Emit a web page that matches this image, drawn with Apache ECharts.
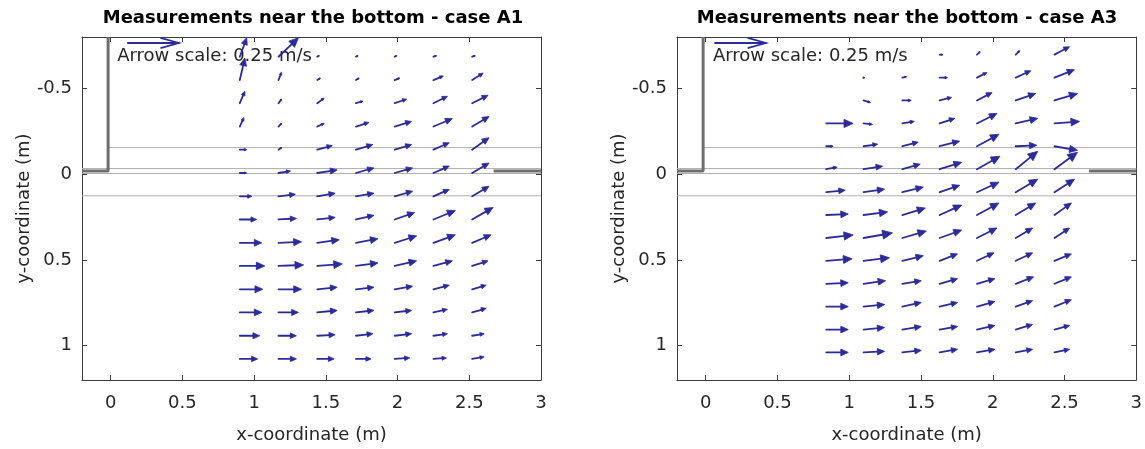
<!DOCTYPE html>
<html><head><meta charset="utf-8">
<script src="https://cdn.jsdelivr.net/npm/echarts@6/dist/echarts.min.js"></script>
<style>html,body{margin:0;padding:0;background:#fff}#c{width:1145px;height:449px}</style>
</head><body><div id="c"></div>
<script>
// ---------------- data ----------------
const titles = ['Measurements near the bottom - case A1', 'Measurements near the bottom - case A3'];
const xName = 'x-coordinate (m)';
const yName = 'y-coordinate (m)';
const xTicks = [0, 0.5, 1, 1.5, 2, 2.5, 3];
const yTicks = [-0.5, 0, 0.5, 1];
const refLabel = 'Arrow scale: 0.25 m/s';
const refSpeed = 250;              // mm/s, reference arrow

// case A1 : measurement grid (m) and velocities (mm/s), rows listed from top (y=-0.69) to bottom
const xA1 = [0.90, 1.17, 1.44, 1.71, 1.98, 2.25, 2.52];
const yA1 = [-0.685, -0.549, -0.414, -0.278, -0.143, -0.007, 0.129, 0.264, 0.400, 0.535, 0.671, 0.806, 0.942, 1.077];
const uA1 = [
  [34, 98, 10, 10, 10, 15, 15],
  [25, 15, 15, 15, 25, 49, 54],
  [25, 15, 34, 34, 59, 69, 78],
  [20, 15, 34, 64, 83, 93, 83],
  [34, 15, 74, 83, 83, 78, 83],
  [34, 59, 98, 88, 88, 78, 83],
  [59, 83, 88, 88, 88, 78, 83],
  [83, 88, 88, 88, 98, 108, 103],
  [108, 113, 108, 108, 108, 108, 93],
  [123, 123, 123, 108, 108, 93, 78],
  [113, 113, 98, 88, 88, 78, 69],
  [108, 98, 98, 88, 83, 69, 69],
  [98, 88, 88, 83, 83, 69, 59],
  [88, 88, 83, 74, 74, 64, 59]
];
const vA1 = [
  [-93, -93, -5, -5, -5, -5, -5],
  [-108, -39, -10, -10, -10, -20, -34],
  [-59, -20, -25, -10, -20, -34, -39],
  [-44, -15, -15, -20, -25, -39, -49],
  [0, -10, -20, -25, -25, -34, -59],
  [0, -10, -15, -25, -25, -34, -49],
  [0, -10, -15, -15, -25, -34, -49],
  [0, -5, -10, -20, -34, -44, -59],
  [0, -5, -15, -20, -34, -39, -39],
  [0, -5, -10, -15, -25, -25, -25],
  [0, 0, -10, -10, -15, -20, -20],
  [0, 0, -10, -10, -10, -15, -20],
  [0, 0, -5, -10, -10, -10, -10],
  [0, 0, 0, 0, -5, -5, -10]
];

// case A3
const xA3 = [0.84, 1.10, 1.37, 1.63, 1.89, 2.16, 2.43];
const yA3 = [-0.697, -0.563, -0.430, -0.296, -0.163, -0.029, 0.105, 0.238, 0.372, 0.505, 0.639, 0.772, 0.906, 1.039];
const uA3 = [
  [null, null, null, 15, 15, 20, 74],
  [null, 5, 20, 39, 49, 74, 98],
  [null, 34, 44, 59, 74, 98, 113],
  [132, 44, 59, 74, 98, 108, 123],
  [34, 69, 78, 98, 108, 103, 113],
  [54, 93, 88, 108, 113, 108, 113],
  [93, 103, 103, 98, 108, 108, 98],
  [108, 118, 113, 108, 108, 98, 83],
  [132, 142, 118, 108, 98, 83, 74],
  [127, 127, 103, 88, 83, 83, 83],
  [108, 108, 93, 88, 88, 88, 83],
  [108, 103, 93, 88, 88, 83, 83],
  [108, 103, 93, 88, 88, 83, 74],
  [108, 103, 93, 88, 88, 83, 74]
];
const vA3 = [
  [null, null, null, 0, -15, -20, -39],
  [null, 0, -5, 0, -25, -34, -39],
  [null, 10, 0, -15, -39, -34, -34],
  [0, 5, -10, -25, -49, -25, -10],
  [0, -10, -20, -25, -59, -5, 20],
  [-10, -15, -25, -34, -64, -88, -83],
  [-10, -15, -25, -34, -49, -64, -64],
  [-5, -15, -34, -49, -59, -59, -59],
  [-15, -25, -34, -39, -49, -49, -49],
  [-10, -15, -25, -34, -39, -39, -34],
  [-5, -15, -15, -25, -25, -34, -34],
  [0, -10, -20, -20, -25, -29, -34],
  [0, -10, -15, -15, -20, -25, -20],
  [0, -5, -10, -15, -15, -15, -15]
];

// flume geometry (m)
const wallX = -0.018;
const floorY = -0.018;
const sillStartX = 2.67;
const thinLinesY = [-0.155, -0.033, -0.004, 0.126];
// reference arrow positions (m): [arrowX, arrowY, textX, textY]
const refPos = [[0.12, -0.765, 0.045, -0.69], [0.065, -0.765, 0.05, -0.69]];

// ---------------- style ----------------
const X_MIN = -0.2, X_MAX = 3, Y_MIN = -0.8, Y_MAX = 1.2;
const REF_LEN_X = 0.355;   // length of the 0.25 m/s arrow, in x-axis units
const FONT = 'DejaVu Sans';
const TXT = '#262626', AX = '#3c3c3c', ARW = '#2b2b9b';

function quiverData(xs, ys, us, vs) {
  const out = [];
  ys.forEach((y, r) => xs.forEach((x, c) => {
    if (us[r][c] !== null && vs[r][c] !== null) out.push([x, y, us[r][c], vs[r][c]]);
  }));
  return out;
}

function arrowShape(px, py, dx, dy, open) {
  const L = Math.hypot(dx, dy);
  if (L < 0.3) return {type: 'circle', shape: {cx: px, cy: py, r: 0.9}, style: {fill: ARW}};
  const ex = dx / L, ey = dy / L, nx = -ey, ny = ex;
  const h = open ? L * 0.36 : Math.max(L * 0.34, 1.5);
  const w = open ? h * 0.28 : h * 0.45;
  const tx = px + dx, ty = py + dy;
  const bx = tx - ex * h, by = ty - ey * h;
  const kids = [];
  kids.push({type: 'line', shape: {x1: px, y1: py, x2: open ? tx : bx + ex * 0.8, y2: open ? ty : by + ey * 0.8},
    style: {stroke: ARW, lineWidth: 1.8, lineCap: 'round'}});
  if (open) {
    kids.push({type: 'polyline', shape: {points: [[bx + nx * w, by + ny * w], [tx, ty], [bx - nx * w, by - ny * w]]},
      style: {stroke: ARW, lineWidth: 1.7, fill: null}});
  } else {
    kids.push({type: 'polygon', shape: {points: [[tx, ty], [bx + nx * w, by + ny * w], [bx - nx * w, by - ny * w]]},
      style: {fill: ARW, stroke: ARW, lineWidth: 0.8}});
  }
  return {type: 'group', children: kids};
}

function renderQuiver(params, api) {
  const p = api.coord([api.value(0), api.value(1)]);
  const k = api.size([REF_LEN_X, 0])[0] / refSpeed;
  return arrowShape(p[0], p[1], api.value(2) * k, api.value(3) * k, false);
}
function renderRef(params, api) {
  const p = api.coord([api.value(0), api.value(1)]);
  const k = api.size([REF_LEN_X, 0])[0] / refSpeed;
  const t = api.coord([api.value(4), api.value(5)]);
  return {type: 'group', children: [
    arrowShape(p[0], p[1], api.value(2) * k, api.value(3) * k, true),
    {type: 'text', style: {text: refLabel, x: t[0], y: t[1], fill: TXT, fontFamily: FONT, fontSize: 18,
      align: 'left', verticalAlign: 'middle'}}
  ]};
}

function makeX(g, pos) {
  const bottom = pos === 'bottom';
  return {
    type: 'value', gridIndex: g, position: pos, min: X_MIN, max: X_MAX,
    name: bottom ? xName : '', nameLocation: 'middle', nameGap: 46,
    nameTextStyle: {fontFamily: FONT, fontSize: 18, color: TXT},
    axisLine: {show: true, onZero: false, lineStyle: {color: AX, width: 1}},
    axisTick: {show: true, inside: true, length: 5, customValues: xTicks, lineStyle: {color: AX}},
    axisLabel: {show: bottom, customValues: xTicks, margin: 14, fontFamily: FONT, fontSize: 18, color: TXT,
      formatter: v => String(v)},
    splitLine: {show: false}
  };
}
function makeY(g, pos) {
  const left = pos === 'left';
  return {
    type: 'value', gridIndex: g, position: pos, min: Y_MIN, max: Y_MAX, inverse: true,
    name: left ? yName : '', nameLocation: 'middle', nameGap: 48,
    nameTextStyle: {fontFamily: FONT, fontSize: 18, color: TXT},
    axisLine: {show: true, onZero: false, lineStyle: {color: AX, width: 1}},
    axisTick: {show: true, inside: true, length: 5, customValues: yTicks, lineStyle: {color: AX}},
    axisLabel: {show: left, customValues: yTicks, margin: 10, fontFamily: FONT, fontSize: 18, color: TXT,
      formatter: v => String(v)},
    splitLine: {show: false}
  };
}

function lineSeries(g, pts, color, width) {
  return {type: 'line', xAxisIndex: 2 * g, yAxisIndex: 2 * g, data: pts, symbol: 'none', silent: true,
    animation: false, lineStyle: {color: color, width: width}, z: 1};
}

const xAxes = [], yAxes = [], series = [];
const quivers = [quiverData(xA1, yA1, uA1, vA1), quiverData(xA3, yA3, uA3, vA3)];
[0, 1].forEach(g => {
  xAxes.push(makeX(g, 'bottom'), makeX(g, 'top'));
  yAxes.push(makeY(g, 'left'), makeY(g, 'right'));
  thinLinesY.forEach((y, i) => series.push(lineSeries(g, [[i === 0 ? wallX : X_MIN, y], [X_MAX, y]], '#b0b0b0', 1)));
  series.push(lineSeries(g, [[X_MIN, floorY], [wallX, floorY], [wallX, Y_MIN]], '#6e6e6e', 3));
  series.push(lineSeries(g, [[sillStartX, floorY], [X_MAX, floorY]], '#6e6e6e', 3));
  series.push({type: 'custom', xAxisIndex: 2 * g, yAxisIndex: 2 * g, data: quivers[g], renderItem: renderQuiver,
    animation: false, silent: true, z: 3});
  const r = refPos[g];
  series.push({type: 'custom', xAxisIndex: 2 * g, yAxisIndex: 2 * g, data: [[r[0], r[1], refSpeed, 0, r[2], r[3]]],
    renderItem: renderRef, animation: false, silent: true, z: 2});
});

const chart = echarts.init(document.getElementById('c'), null, {renderer: 'canvas', width: 1145, height: 449});
chart.setOption({
  backgroundColor: '#ffffff',
  animation: false,
  title: [
    {text: titles[0], left: 313, top: 9, textAlign: 'center', padding: 0,
      textStyle: {fontFamily: FONT, fontSize: 18, fontWeight: 'bold', color: '#000'}},
    {text: titles[1], left: 907, top: 9, textAlign: 'center', padding: 0,
      textStyle: {fontFamily: FONT, fontSize: 18, fontWeight: 'bold', color: '#000'}}
  ],
  grid: [
    {left: 82, top: 37, width: 459, height: 345},
    {left: 677, top: 37, width: 460, height: 345}
  ],
  xAxis: xAxes,
  yAxis: yAxes,
  series: series
});
</script>
</body></html>
